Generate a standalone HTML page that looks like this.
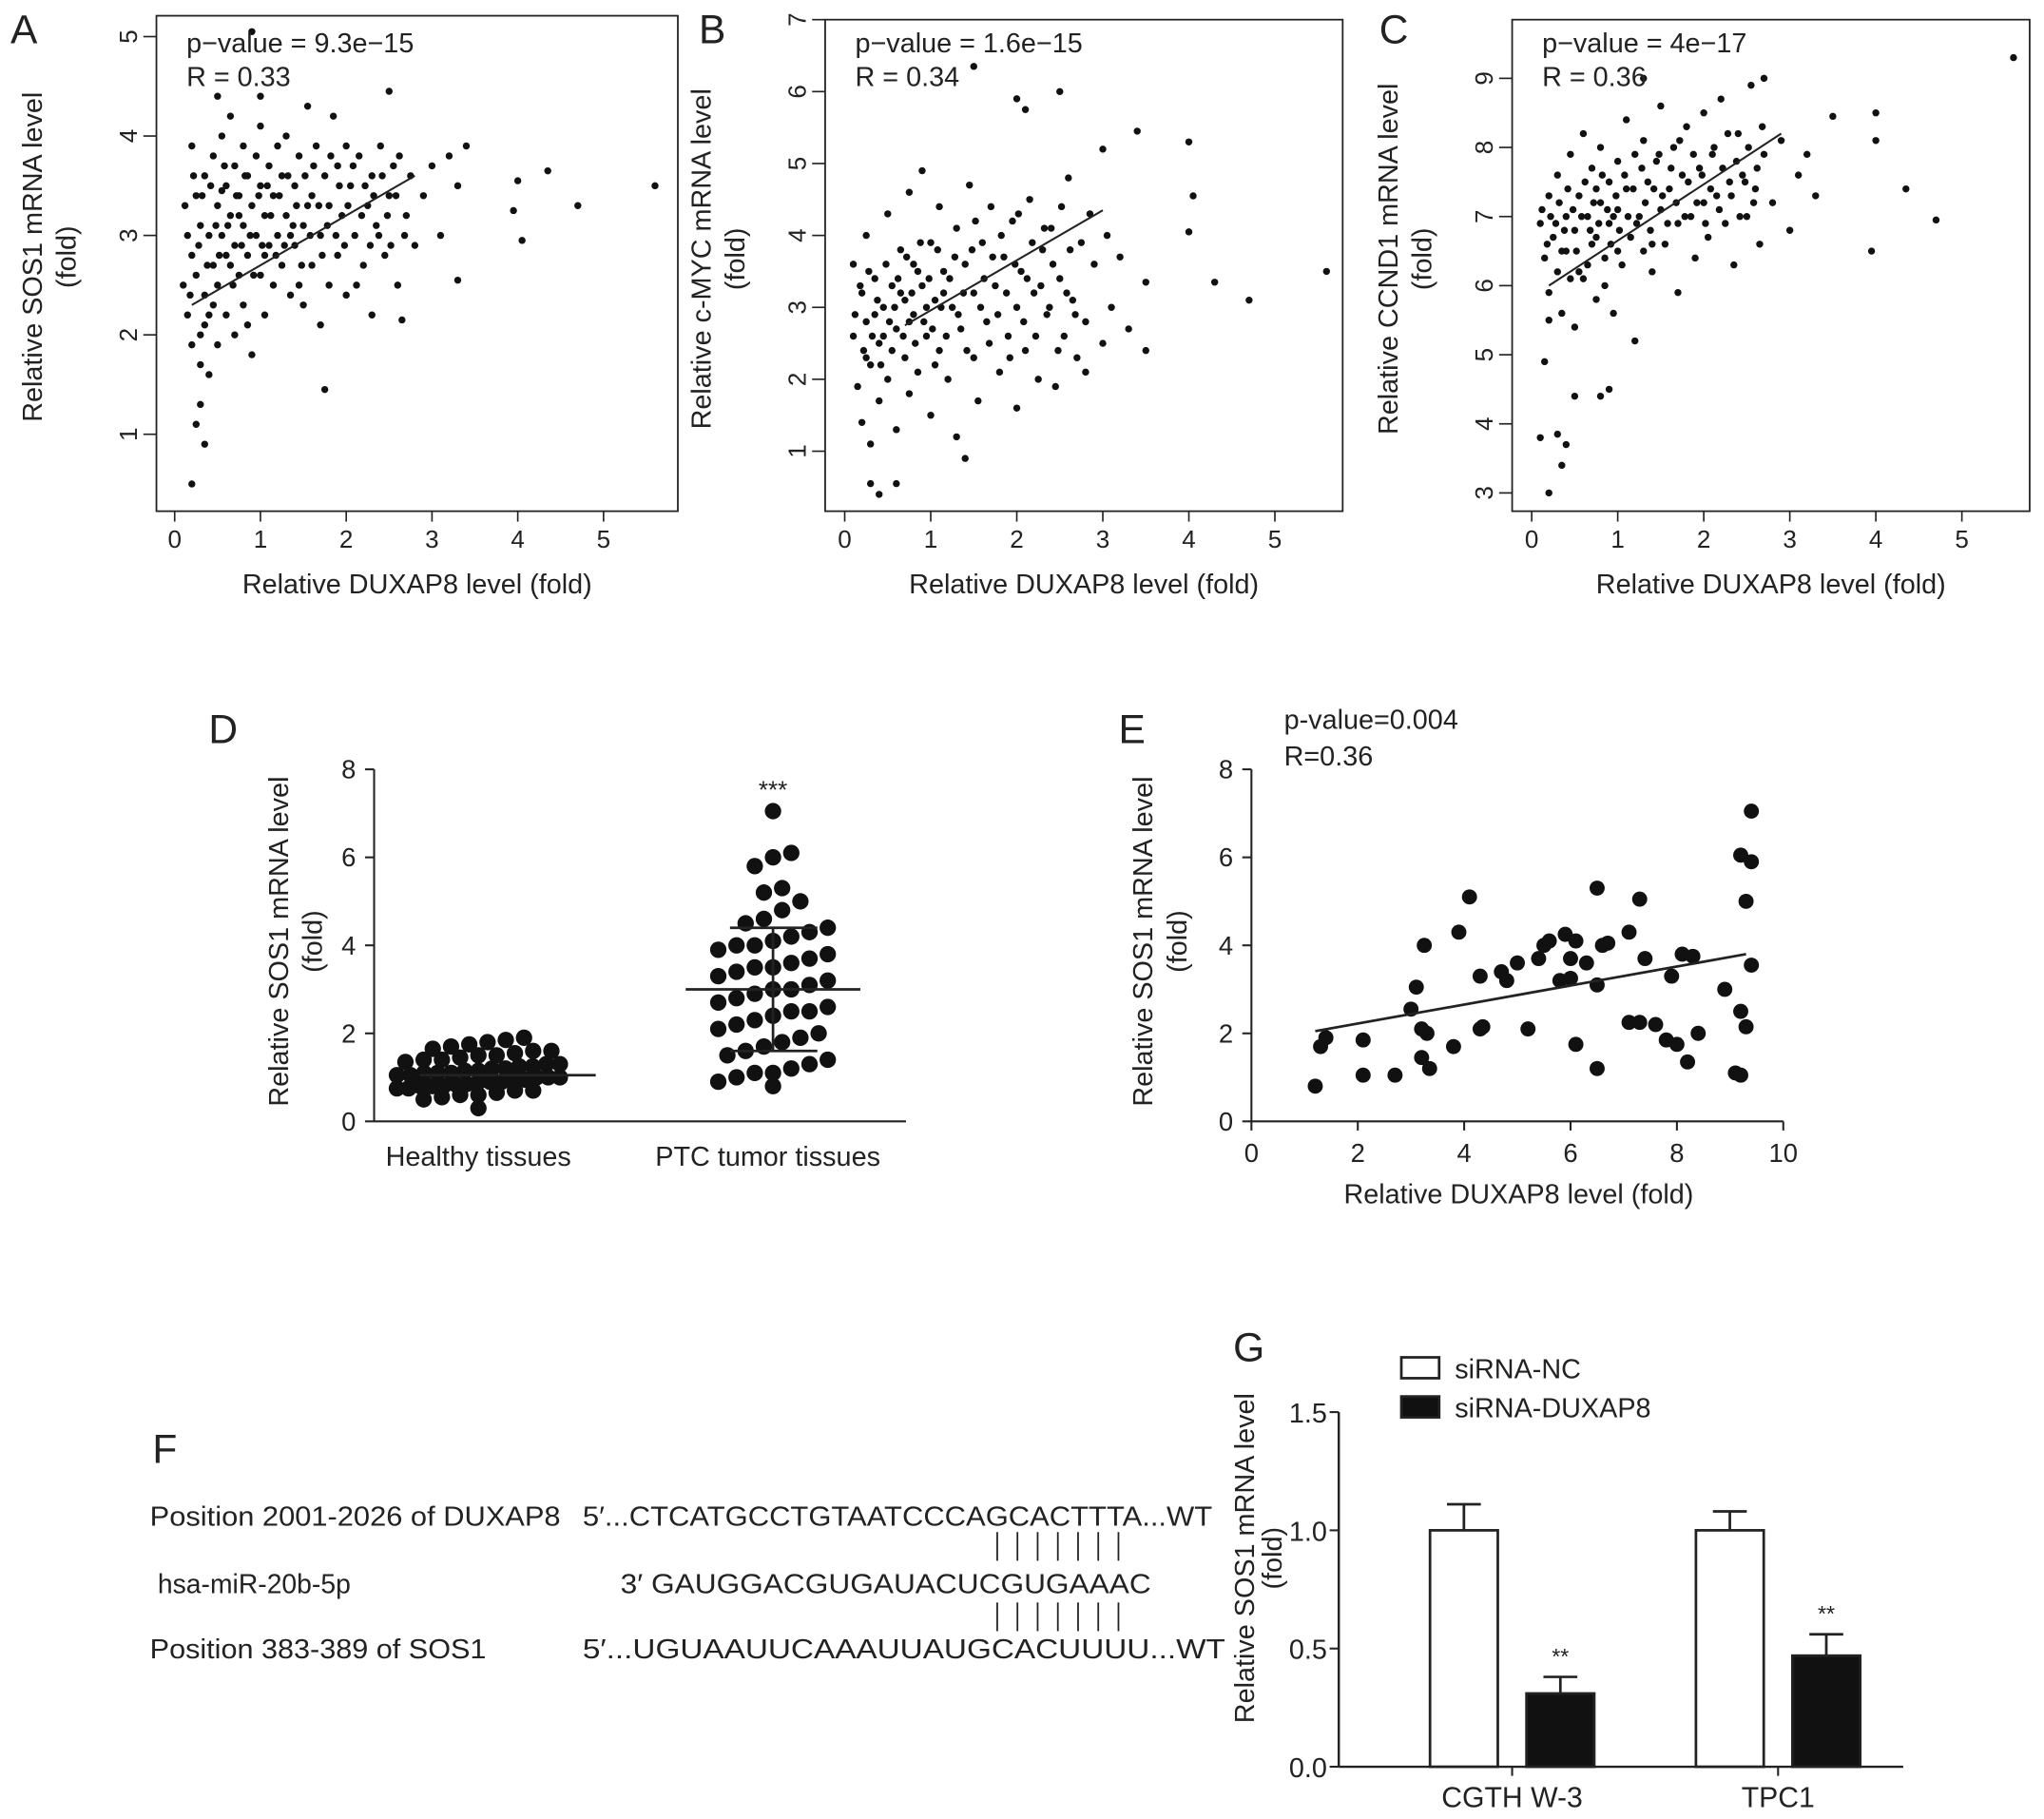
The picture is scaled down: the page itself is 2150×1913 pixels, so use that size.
<!DOCTYPE html>
<html><head><meta charset="utf-8"><style>
html,body{margin:0;padding:0;background:#fff}
svg{display:block}
text{font-family:"Liberation Sans",sans-serif;fill:#222}
</style></head><body>
<svg id="fig" width="2150" height="1913" viewBox="0 0 1568 1395" xmlns="http://www.w3.org/2000/svg"></svg>
<script>
// ---------- data ----------
const scatterA = [0.1,2.5,0.15,3.0,0.15,2.2,0.2,3.9,0.2,2.8,0.2,1.9,0.25,3.4,0.25,2.6,0.3,3.1,0.3,2.0,0.3,1.7,0.35,3.6,0.35,2.4,0.4,3.0,0.4,2.2,0.4,1.6,0.45,3.8,0.45,2.7,0.5,3.3,0.5,2.5,0.5,1.9,0.55,4.0,0.55,3.0,0.6,3.5,0.6,2.8,0.6,2.2,0.65,3.2,0.65,4.2,0.7,2.9,0.7,3.7,0.7,2.0,0.75,3.4,0.75,2.6,0.8,3.1,0.8,3.9,0.8,2.3,0.85,3.6,0.85,2.8,0.9,3.3,0.9,1.8,0.95,3.0,0.95,3.8,1.0,2.6,1.0,3.5,1.0,4.1,1.05,3.2,1.05,2.2,1.1,3.7,1.1,2.9,1.15,3.4,1.15,2.5,1.2,3.9,1.2,3.0,1.25,2.7,1.25,3.6,1.3,3.2,1.3,4.0,1.35,2.4,1.4,3.5,1.4,2.9,1.45,3.8,1.5,3.1,1.5,2.3,1.55,4.3,1.6,3.4,1.6,2.7,1.65,3.9,1.7,3.0,1.7,2.1,1.75,3.6,1.8,3.3,1.8,2.5,1.85,4.2,1.9,3.7,1.9,2.8,1.95,3.2,2.0,3.9,2.0,2.4,2.05,3.5,2.1,3.0,2.15,3.8,2.2,2.7,2.25,3.3,2.3,3.6,2.3,2.2,2.35,3.1,2.4,3.9,2.45,2.8,2.5,3.4,2.55,3.7,2.6,2.5,2.7,3.2,2.75,3.6,2.8,2.9,2.9,3.4,3.0,3.7,3.1,3.0,3.2,3.8,3.3,3.5,
 4.0,3.55,4.35,3.65,4.7,3.3,5.6,3.5,3.95,3.25,4.05,2.95,3.4,3.9,2.5,4.45,1.0,4.4,0.5,4.4,0.9,5.05,0.2,0.5,0.35,0.9,0.25,1.1,0.3,1.3,1.75,1.45,2.65,2.15,3.3,2.55,
 0.12,3.3,0.18,2.4,0.22,3.6,0.28,2.9,0.32,3.4,0.38,2.7,0.42,3.5,0.48,3.1,0.52,2.8,0.58,3.7,0.62,3.1,0.68,2.5,0.72,3.4,0.78,2.9,0.82,3.6,0.88,3.0,0.92,2.6,0.98,3.4,1.02,2.9,1.08,3.5,1.12,3.2,1.18,2.8,1.22,3.4,1.28,2.9,1.32,3.6,1.38,3.1,1.42,3.3,1.48,2.7,1.52,3.6,1.58,3.0,1.62,3.7,1.68,3.3,1.72,2.8,1.78,3.1,1.82,3.8,1.88,3.0,1.92,3.5,1.98,2.9,2.02,3.3,2.08,3.7,2.12,2.5,2.18,3.2,2.22,3.5,2.28,2.9,2.32,3.4,2.38,3.0,2.42,3.6,2.48,3.2,2.52,2.9,2.58,3.4,2.62,3.8,2.68,3.0,0.55,3.45,0.75,3.2,0.65,2.7,1.35,3.0,1.55,3.3,0.45,2.3,0.85,2.1,1.45,2.5,0.35,2.1,1.05,2.8];
const scatterB = [0.1,3.6,0.1,2.6,0.15,1.9,0.2,3.2,0.2,1.4,0.25,2.8,0.25,4.0,0.3,2.2,0.3,1.1,0.35,3.4,0.4,2.5,0.4,1.7,0.45,3.0,0.5,4.3,0.5,2.0,0.55,3.3,0.6,2.7,0.6,1.3,0.65,3.8,0.7,2.3,0.7,3.1,0.75,4.6,0.75,1.8,0.8,2.9,0.8,3.6,0.85,2.1,0.9,3.3,0.9,4.9,0.95,2.6,1.0,3.9,1.0,1.5,1.05,3.1,1.1,2.4,1.1,4.4,1.15,3.5,1.2,2.0,1.25,3.0,1.3,4.1,1.3,1.2,1.35,2.7,1.4,3.6,1.45,4.7,1.5,2.3,1.5,3.2,1.55,1.7,1.6,3.9,1.65,2.8,1.7,4.4,1.75,3.3,1.8,2.1,1.85,3.7,1.9,2.6,1.95,4.2,2.0,3.0,2.0,1.6,2.05,3.5,2.1,2.4,2.15,4.5,2.2,3.2,2.25,2.0,2.3,3.8,2.35,2.9,2.4,4.1,2.45,1.9,2.5,3.4,2.55,2.6,2.6,4.8,2.65,3.1,2.7,2.3,2.75,3.9,2.8,2.8,2.85,4.3,2.9,3.6,3.0,2.5,3.05,4.0,3.1,3.0,3.2,3.7,3.3,2.7,
 5.6,3.5,4.7,3.1,4.3,3.35,4.0,4.05,4.05,4.55,4.0,5.3,3.4,5.45,3.5,3.35,3.5,2.4,3.0,5.2,2.0,5.9,2.1,5.75,2.5,6.0,1.5,6.35,0.4,0.4,0.3,0.55,0.6,0.55,1.4,0.9,2.8,2.1,
 0.12,2.9,0.18,3.3,0.22,2.4,0.28,3.5,0.32,2.6,0.38,3.1,0.42,2.2,0.48,3.6,0.52,2.8,0.58,3.0,0.62,3.4,0.68,2.6,0.72,3.7,0.78,3.2,0.82,2.5,0.88,3.9,0.92,2.8,0.98,3.4,1.02,2.7,1.08,3.8,1.12,3.0,1.18,2.6,1.22,3.4,1.28,3.7,1.32,2.9,1.38,3.2,1.42,2.4,1.48,3.8,1.52,4.2,1.58,3.0,1.62,3.4,1.68,2.5,1.72,3.7,1.78,2.9,1.82,4.0,1.88,3.2,1.92,2.3,1.98,3.6,2.02,4.3,2.08,2.8,2.12,3.4,2.18,3.9,2.22,2.6,2.28,3.3,2.32,4.1,2.38,3.0,2.42,3.6,2.48,2.4,2.52,4.4,2.58,3.2,2.62,3.8,2.68,2.9,0.55,2.4,0.65,3.2,0.75,2.8,0.45,2.6,0.35,2.9,0.25,2.3,0.85,3.5,0.95,3.0,1.05,2.2,1.15,3.2];
const scatterC = [0.1,6.9,0.15,6.4,0.2,7.3,0.2,5.9,0.25,6.7,0.3,7.6,0.3,6.2,0.35,5.6,0.4,7.0,0.4,6.5,0.45,7.9,0.5,6.8,0.5,5.4,0.55,7.3,0.6,6.1,0.6,8.2,0.65,7.0,0.7,6.6,0.7,7.7,0.75,5.8,0.8,7.2,0.8,8.0,0.85,6.4,0.9,7.5,0.9,6.9,0.95,5.6,1.0,7.8,1.0,7.1,1.05,6.3,1.1,8.4,1.1,7.4,1.15,6.7,1.2,7.9,1.2,5.2,1.25,7.0,1.3,6.5,1.3,8.1,1.35,7.5,1.4,6.2,1.45,7.8,1.5,7.1,1.5,8.6,1.55,6.6,1.6,7.4,1.65,8.0,1.7,6.9,1.7,5.9,1.75,7.6,1.8,8.3,1.85,7.0,1.9,6.4,1.95,7.7,2.0,8.5,2.0,7.2,2.05,6.7,2.1,7.9,2.15,7.3,2.2,8.7,2.25,6.9,2.3,7.5,2.35,6.3,2.4,8.2,2.45,7.6,2.5,7.0,2.55,8.9,2.6,7.4,2.65,6.6,2.7,7.9,2.8,7.2,2.9,8.1,3.0,6.8,3.1,7.6,3.2,7.9,3.3,7.3,
 5.6,9.3,4.7,6.95,4.35,7.4,4.0,8.5,4.0,8.1,3.95,6.5,3.5,8.45,0.1,3.8,0.2,3.0,0.3,3.85,0.35,3.4,0.4,3.7,0.5,4.4,0.9,4.5,0.8,4.4,0.15,4.9,0.2,5.5,1.3,9.0,2.7,9.0,
 0.12,7.1,0.18,6.6,0.22,7.0,0.28,6.9,0.32,7.2,0.38,6.8,0.42,7.4,0.48,7.1,0.52,6.5,0.58,7.0,0.62,7.5,0.68,6.8,0.72,7.2,0.78,6.9,0.82,7.6,0.88,7.1,0.92,6.6,0.98,7.3,1.02,6.8,1.08,7.6,1.12,7.0,1.18,7.4,1.22,6.9,1.28,7.7,1.32,7.2,1.38,6.8,1.42,7.4,1.48,7.9,1.52,7.3,1.58,6.9,1.62,7.7,1.68,7.2,1.72,8.1,1.78,7.0,1.82,7.5,1.88,7.9,1.92,7.2,1.98,7.6,2.02,6.9,2.08,7.4,2.12,8.0,2.18,7.1,2.22,7.7,2.28,8.2,2.32,7.3,2.38,7.8,2.42,7.0,2.48,7.5,2.52,8.0,2.58,7.2,2.62,7.7,2.68,8.3,0.55,6.2,0.65,6.3,0.75,6.7,0.85,6.0,0.35,6.5,0.45,6.1,1.0,6.5,1.4,6.6,0.95,7.0,0.75,7.4];
const regA=[0.2,2.3,2.8,3.6], regB=[0.7,2.75,3.0,4.35], regC=[0.2,6.0,2.9,8.2];
const healthyVals=[0.3,0.5,0.55,0.6,0.6,0.65,0.7,0.7,0.75,0.75,0.8,0.8,0.8,0.85,0.85,0.9,0.9,0.9,0.95,0.95,1.0,1.0,1.0,1.05,1.05,1.1,1.1,1.1,1.15,1.15,1.2,1.2,1.25,1.25,1.3,1.3,1.35,1.4,1.4,1.45,1.5,1.5,1.55,1.6,1.6,1.65,1.7,1.75,1.8,1.85,1.9];
const ptcVals=[0.8,0.9,1.0,1.1,1.1,1.2,1.3,1.4,1.5,1.6,1.7,1.8,1.9,2.0,2.1,2.2,2.3,2.4,2.5,2.5,2.6,2.7,2.8,2.9,3.0,3.0,3.1,3.2,3.3,3.4,3.5,3.5,3.6,3.7,3.8,3.9,4.0,4.0,4.1,4.2,4.3,4.4,4.5,4.6,4.8,5.0,5.2,5.3,5.8,6.0,6.1,7.05];
const statD={healthyMean:1.05, ptcMean:3.0, ptcLo:1.6, ptcHi:4.4};
const scatterE=[1.2,0.8,1.3,1.7,1.4,1.9,2.1,1.05,2.1,1.85,2.7,1.05,3.0,2.55,3.1,3.05,3.2,1.45,3.2,2.1,3.25,4.0,3.35,1.2,3.3,2.0,3.9,4.3,4.1,5.1,3.8,1.7,4.3,2.1,4.35,2.15,4.3,3.3,4.7,3.4,4.8,3.2,5.0,3.6,5.2,2.1,5.4,3.7,5.5,4.0,5.6,4.1,5.8,3.2,5.9,4.25,6.0,3.7,6.0,3.25,6.1,4.1,6.1,1.75,6.3,3.6,6.5,5.3,6.5,3.1,6.5,1.2,6.6,4.0,6.7,4.05,7.1,4.3,7.1,2.25,7.3,5.05,7.3,2.25,7.4,3.7,7.6,2.2,7.8,1.85,7.9,3.3,8.0,1.75,8.1,3.8,8.2,1.35,8.3,3.75,8.4,2.0,8.9,3.0,9.1,1.1,9.2,1.05,9.2,2.5,9.2,6.05,9.3,5.0,9.4,7.05,9.4,5.9,9.3,2.15,9.4,3.55];
const regE=[1.2,2.05,9.3,3.8];
const gGroups=["CGTH W-3","TPC1"];
const gNC=[1.0,1.0], gNCerr=[0.11,0.08];
const gKD=[0.31,0.47], gKDerr=[0.07,0.09];
const gTicks=[0.0,0.5,1.0,1.5];

// ---------- helpers ----------
const NS="http://www.w3.org/2000/svg", svg=document.getElementById('fig');
function el(tag,attrs,parent,txt){const e=document.createElementNS(NS,tag);for(const k in attrs)e.setAttribute(k,attrs[k]);if(txt!==undefined)e.textContent=txt;(parent||svg).appendChild(e);return e;}
function grp(name){const g=el('g',{});return g;}
function lin(d0,d1,r0,r1){return v=>r0+(v-d0)*(r1-r0)/(d1-d0);}

// ---------- panels A-C ----------
function scatterPanel(o){
 const g=grp(o.name);
 const X=lin(0,5,o.x0,o.x5), Y=lin(o.yv0,o.yv1,o.yp0,o.yp1);
 const box=el('rect',{x:o.bx,y:o.by,width:o.bw,height:o.bh,fill:'none',stroke:'#222','stroke-width':1.3},g);
 
 for(let v=0;v<=5;v++){el('line',{x1:X(v),y1:o.by+o.bh,x2:X(v),y2:o.by+o.bh+8,stroke:'#222','stroke-width':1.2},g);const t=el('text',{x:X(v),y:o.by+o.bh+28,'font-size':19,'text-anchor':'middle'},g,String(v));}
 for(const v of o.yt){const yy=Y(v);el('line',{x1:o.bx-10,y1:yy,x2:o.bx,y2:yy,stroke:'#222','stroke-width':1.2},g);const t=el('text',{x:0,y:0,'font-size':19,'text-anchor':'middle',transform:`translate(${o.bx-15},${yy}) rotate(-90)`},g,String(v));}
 for(let i=0;i<o.pts.length;i+=2){const c=el('circle',{cx:X(o.pts[i]),cy:Y(o.pts[i+1]),r:2.7,fill:'#111'},g);}
 const r=o.reg;const l=el('line',{x1:X(r[0]),y1:Y(r[1]),x2:X(r[2]),y2:Y(r[3]),stroke:'#222','stroke-width':1.5},g);
 let t=el('text',{x:o.bx+23,y:40,'font-size':21},g,o.p);
 t=el('text',{x:o.bx+23,y:66,'font-size':21},g,o.R);
 t=el('text',{x:(o.bx+o.bx+o.bw)/2,y:455,'font-size':21,'text-anchor':'middle'},g,'Relative DUXAP8 level (fold)');
 t=el('text',{x:0,y:0,'font-size':21,'text-anchor':'middle',transform:`translate(${o.bx-88},${o.by+o.bh/2-5}) rotate(-90)`},g,o.ylab);
 t=el('text',{x:0,y:0,'font-size':21,'text-anchor':'middle',transform:`translate(${o.bx-62},${o.by+o.bh/2-5}) rotate(-90)`},g,'(fold)');
 t=el('text',{x:o.lx,y:33,'font-size':31},g,o.letter);
}
scatterPanel({name:'panel-a',letter:'A',lx:8,bx:120,by:12,bw:400,bh:380,x0:134,x5:463,yv0:1,yv1:5,yp0:333,yp1:28,yt:[1,2,3,4,5],pts:scatterA,reg:regA,p:'p\u2212value = 9.3e\u221215',R:'R = 0.33',ylab:'Relative SOS1 mRNA level'});
scatterPanel({name:'panel-b',letter:'B',lx:536,bx:633,by:15,bw:397,bh:377,x0:648,x5:978,yv0:1,yv1:7,yp0:346,yp1:15,yt:[1,2,3,4,5,6,7],pts:scatterB,reg:regB,p:'p\u2212value = 1.6e\u221215',R:'R = 0.34',ylab:'Relative c-MYC mRNA level'});
scatterPanel({name:'panel-c',letter:'C',lx:1058,bx:1160,by:15,bw:397,bh:377,x0:1175,x5:1505,yv0:3,yv1:9,yp0:378,yp1:60,yt:[3,4,5,6,7,8,9],pts:scatterC,reg:regC,p:'p\u2212value = 4e\u221217',R:'R = 0.36',ylab:'Relative CCND1 mRNA level'});

// ---------- panel D ----------
(function(){
 const g=grp('panel-d');
 const Y=lin(0,8,860,590);
 let a=el('line',{x1:287,y1:590,x2:287,y2:860,stroke:'#222','stroke-width':1.5},g);
 a=el('line',{x1:287,y1:860,x2:695,y2:860,stroke:'#222','stroke-width':1.5},g);
 for(let v=0;v<=8;v+=2){el('line',{x1:280,y1:Y(v),x2:287,y2:Y(v),stroke:'#222','stroke-width':1.5},g);const t=el('text',{x:273,y:Y(v)+7,'font-size':20,'text-anchor':'end'},g,String(v));}
 function swarm(vals,cx,maxw,bin){
  const bins={};vals.forEach(v=>{const b=Math.round(v/bin);(bins[b]=bins[b]||[]).push(v);});
  for(const b in bins){const arr=bins[b];const n=arr.length;const step=Math.min(14,maxw/Math.max(1,n-1));
   arr.forEach((v,i)=>{const x=cx+(i-(n-1)/2)*step;const c=el('circle',{cx:x,cy:Y(v),r:6.3,fill:'#111'},g);});}
 }
 swarm(healthyVals,367,125,0.3);swarm(ptcVals,593,125,0.6);
 let l=el('line',{x1:322,y1:Y(statD.healthyMean),x2:457,y2:Y(statD.healthyMean),stroke:'#222','stroke-width':2},g);
 l=el('line',{x1:526,y1:Y(statD.ptcMean),x2:660,y2:Y(statD.ptcMean),stroke:'#222','stroke-width':2},g);
 el('line',{x1:593,y1:Y(statD.ptcLo),x2:593,y2:Y(statD.ptcHi),stroke:'#222','stroke-width':2},g);
 el('line',{x1:560,y1:Y(statD.ptcLo),x2:627,y2:Y(statD.ptcLo),stroke:'#222','stroke-width':2},g);
 el('line',{x1:560,y1:Y(statD.ptcHi),x2:627,y2:Y(statD.ptcHi),stroke:'#222','stroke-width':2},g);
 let t=el('text',{x:593,y:612,'font-size':19,'text-anchor':'middle'},g,'***');
 t=el('text',{x:367,y:894,'font-size':21,'text-anchor':'middle'},g,'Healthy tissues');
 t=el('text',{x:589,y:894,'font-size':21,'text-anchor':'middle'},g,'PTC tumor tissues');
 t=el('text',{x:0,y:0,'font-size':21,'text-anchor':'middle',transform:'translate(221,722) rotate(-90)'},g,'Relative SOS1 mRNA level');
 t=el('text',{x:0,y:0,'font-size':21,'text-anchor':'middle',transform:'translate(247,722) rotate(-90)'},g,'(fold)');
 t=el('text',{x:160,y:570,'font-size':31},g,'D');
})();

// ---------- panel E ----------
(function(){
 const g=grp('panel-e');
 const X=lin(0,10,960,1368), Y=lin(0,8,860,590);
 let a=el('line',{x1:960,y1:590,x2:960,y2:860,stroke:'#222','stroke-width':1.5},g);
 a=el('line',{x1:960,y1:860,x2:1368,y2:860,stroke:'#222','stroke-width':1.5},g);
 for(let v=0;v<=8;v+=2){el('line',{x1:953,y1:Y(v),x2:960,y2:Y(v),stroke:'#222','stroke-width':1.5},g);const t=el('text',{x:946,y:Y(v)+7,'font-size':20,'text-anchor':'end'},g,String(v));}
 for(let v=0;v<=10;v+=2){el('line',{x1:X(v),y1:860,x2:X(v),y2:867,stroke:'#222','stroke-width':1.5},g);const t=el('text',{x:X(v),y:891,'font-size':20,'text-anchor':'middle'},g,String(v));}
 for(let i=0;i<scatterE.length;i+=2){const c=el('circle',{cx:X(scatterE[i]),cy:Y(scatterE[i+1]),r:5.8,fill:'#111'},g);}
 const l=el('line',{x1:X(regE[0]),y1:Y(regE[1]),x2:X(regE[2]),y2:Y(regE[3]),stroke:'#222','stroke-width':2},g);
 let t=el('text',{x:985,y:559,'font-size':21},g,'p-value=0.004');
 t=el('text',{x:985,y:587,'font-size':21},g,'R=0.36');
 t=el('text',{x:1165,y:923,'font-size':21,'text-anchor':'middle'},g,'Relative DUXAP8 level (fold)');
 t=el('text',{x:0,y:0,'font-size':21,'text-anchor':'middle',transform:'translate(884,722) rotate(-90)'},g,'Relative SOS1 mRNA level');
 t=el('text',{x:0,y:0,'font-size':21,'text-anchor':'middle',transform:'translate(910,722) rotate(-90)'},g,'(fold)');
 t=el('text',{x:858,y:570,'font-size':31},g,'E');
})();

// ---------- panel F ----------
(function(){
 const g=grp('panel-f');
 const rows=[['Position 2001-2026 of DUXAP8',115,1170,315,'5\u2032...CTCATGCCTGTAATCCCAGCACTTTA...WT',447,483],
   ['hsa-miR-20b-5p',121,1222,148,'3\u2032  GAUGGACGUGAUACUCGUGAAAC',476,407],
   ['Position 383-389 of SOS1',115,1272,258,'5\u2032...UGUAAUUCAAAUUAUGCACUUUU...WT',447,493]];
 rows.forEach(r=>{let t=el('text',{x:r[1],y:r[2],'font-size':21,textLength:r[3],lengthAdjust:'spacingAndGlyphs'},g,r[0]);
  t=el('text',{x:r[5],y:r[2],'font-size':21,textLength:r[6],lengthAdjust:'spacingAndGlyphs'},g,r[4]);});
 for(const yy of [1175,1229]){for(let i=0;i<7;i++){const x=765+i*15.5;el('line',{x1:x,y1:yy,x2:x,y2:yy+22,stroke:'#222','stroke-width':1.3},g);}}
 const t=el('text',{x:117,y:1122,'font-size':31},g,'F');
})();

// ---------- panel G ----------
(function(){
 const g=grp('panel-g');
 const Y=lin(0,1.5,1355,1083);
 let a=el('line',{x1:1027,y1:1083,x2:1027,y2:1355,stroke:'#222','stroke-width':1.8},g);
 a=el('line',{x1:1027,y1:1355,x2:1460,y2:1355,stroke:'#222','stroke-width':1.8},g);
 gTicks.forEach(v=>{el('line',{x1:1020,y1:Y(v),x2:1027,y2:Y(v),stroke:'#222','stroke-width':1.5},g);const t=el('text',{x:1018,y:Y(v)+8,'font-size':21,'text-anchor':'end'},g,v.toFixed(1));});
 const centers=[1160,1364], bw=52;
 gGroups.forEach((name,i)=>{
  const c=centers[i];
  el('line',{x1:c,y1:1355,x2:c,y2:1362,stroke:'#222','stroke-width':1.5},g);
  [[gNC[i],gNCerr[i],c-63,'#fff','bar-sirna-nc'],[gKD[i],gKDerr[i],c+11,'#111','bar-sirna-duxap8']].forEach(b=>{
   const x=b[2], top=Y(b[0]);
   el('line',{x1:x+bw/2,y1:top,x2:x+bw/2,y2:Y(b[0]+b[1]),stroke:'#222','stroke-width':2},g);
   el('line',{x1:x+bw/2-13,y1:Y(b[0]+b[1]),x2:x+bw/2+13,y2:Y(b[0]+b[1]),stroke:'#222','stroke-width':2},g);
   const r=el('rect',{x:x,y:top,width:bw,height:1355-top,fill:b[3],stroke:'#222','stroke-width':2},g);
  });
  let t=el('text',{x:c+37,y:Y(gKD[i]+gKDerr[i])-10,'font-size':17,'text-anchor':'middle'},g,'**');
  t=el('text',{x:c,y:1386,'font-size':22,'text-anchor':'middle'},g,name);
 });
 let r=el('rect',{x:1075,y:1041,width:29,height:16,fill:'#fff',stroke:'#222','stroke-width':2},g);
 r=el('rect',{x:1075,y:1071,width:29,height:16,fill:'#111',stroke:'#222','stroke-width':2},g);
 let t=el('text',{x:1116,y:1057,'font-size':21},g,'siRNA-NC');
 t=el('text',{x:1116,y:1087,'font-size':21},g,'siRNA-DUXAP8');
 t=el('text',{x:0,y:0,'font-size':21,'text-anchor':'middle',transform:'translate(962,1195) rotate(-90)'},g,'Relative SOS1 mRNA level');
 t=el('text',{x:0,y:0,'font-size':21,'text-anchor':'middle',transform:'translate(983,1195) rotate(-90)'},g,'(fold)');
 t=el('text',{x:946,y:1044,'font-size':31},g,'G');
})();
</script>
</body></html>
